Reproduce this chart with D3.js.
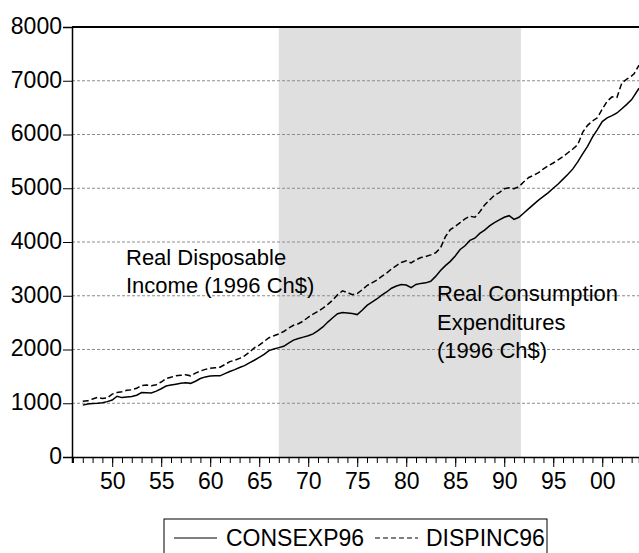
<!DOCTYPE html>
<html><head><meta charset="utf-8">
<script src="https://cdn.jsdelivr.net/npm/d3@7"></script>
<style>body{margin:0;background:#fff}svg{display:block}text{font-family:"Liberation Sans",Arial,sans-serif;fill:#000}</style>
</head><body>
<script>
// Period (semiannual observations, decimal years)
const periods = d3.range(1947, 2003.01, 0.5).concat([2003.25, 2003.75]);
const consexp96 = [965,985,995,1000,1010,1030,1060,1130,1105,1115,1125,1150,1200,1195,1190,1225,1270,1320,1340,1355,
 1370,1380,1370,1410,1460,1490,1505,1510,1510,1550,1590,1625,1665,1700,1750,1800,1855,1910,1980,2010,
 2035,2060,2120,2175,2205,2230,2255,2290,2350,2420,2510,2590,2665,2690,2680,2670,2650,2730,2820,2880,
 2940,3010,3070,3140,3180,3210,3200,3150,3210,3230,3240,3270,3360,3470,3560,3640,3740,3860,3930,4030,
 4070,4160,4220,4300,4360,4410,4460,4490,4420,4460,4540,4620,4700,4780,4850,4920,5000,5080,5170,5260,
 5360,5490,5640,5780,5950,6090,6240,6310,6350,6400,6480,6560,6650,6720,6860];
const dispinc96 = [1035,1045,1080,1110,1090,1100,1170,1200,1215,1240,1250,1280,1330,1340,1325,1345,1395,1460,1485,1510,
 1520,1530,1510,1560,1600,1630,1650,1660,1670,1720,1775,1800,1835,1880,1950,2030,2080,2150,2220,2255,
 2290,2335,2400,2450,2480,2530,2600,2660,2710,2770,2840,2920,3020,3090,3060,3020,3040,3110,3190,3240,
 3290,3360,3420,3500,3560,3620,3650,3610,3670,3710,3730,3760,3800,3890,4100,4230,4290,4360,4430,4480,
 4460,4560,4690,4780,4870,4920,4990,5010,4990,5030,5120,5200,5240,5290,5360,5420,5470,5530,5590,5660,
 5730,5810,6040,6170,6250,6310,6470,6620,6700,6690,6960,7030,7090,7130,7290];
const shadeSpan = [1967.0, 1991.7];
const yTicks = [0,1000,2000,3000,4000,5000,6000,7000,8000];
const xMajor = [1950,1955,1960,1965,1970,1975,1980,1985,1990,1995,2000];
const xMinor = d3.range(1946, 2004, 1);
const seriesNames = ["CONSEXP96", "DISPINC96"];

const W = 639, H = 553;
const L = 72, R = 639, T = 27, B = 457;
const svg = d3.select("body").append("svg").attr("width", W).attr("height", H);
const x = d3.scaleLinear().domain([1945.9, 2003.75]).range([L, R]);
const y = d3.scaleLinear().domain([0, 8000]).range([B, T]);

// shading
svg.append("rect").attr("x", x(shadeSpan[0])).attr("y", T)
  .attr("width", x(shadeSpan[1]) - x(shadeSpan[0])).attr("height", B - T).attr("fill", "#dfdfdf");

// grid
svg.selectAll("line.grid").data(yTicks.filter(v => v > 0 && v < 8000)).join("line")
  .attr("x1", L).attr("x2", R).attr("y1", d => y(d)).attr("y2", d => y(d))
  .attr("stroke", "#8c8c8c").attr("stroke-width", 1).attr("stroke-dasharray", "3,2");

// series
const line = vals => d3.line().x((d, i) => x(periods[i])).y(d => y(d))(vals);
svg.append("path").attr("d", line(consexp96)).attr("fill", "none").attr("stroke", "#000").attr("stroke-width", 1.5);
svg.append("path").attr("d", line(dispinc96)).attr("fill", "none").attr("stroke", "#000").attr("stroke-width", 1.5)
  .attr("stroke-dasharray", "6,3");

// top border
svg.append("line").attr("x1", L).attr("x2", R).attr("y1", T).attr("y2", T).attr("stroke", "#000").attr("stroke-width", 2);

// left axis
const ya = svg.append("g").attr("transform", `translate(${L},0)`)
  .call(d3.axisLeft(y).tickValues(yTicks).tickSize(9).tickPadding(1).tickFormat(d3.format("d")));
ya.select(".domain").attr("stroke-width", 1.5);
ya.selectAll("text").style("font-size", "23px").attr("font-family", null).attr("dy", "0.28em");

// bottom axis
const xa = svg.append("g").attr("transform", `translate(0,${B})`);
xa.call(d3.axisBottom(x).tickValues(xMinor).tickSize(6).tickFormat(""));
xa.select(".domain").attr("stroke-width", 1.5);
const xb = svg.append("g").attr("transform", `translate(0,${B})`);
xb.call(d3.axisBottom(x).tickValues(xMajor).tickSize(10).tickPadding(6)
  .tickFormat(d => String(d % 100).padStart(2, "0")));
xb.select(".domain").remove();
xb.selectAll("text").style("font-size", "23px").attr("font-family", null);

// annotations
const ann = svg.append("g").style("font-size", "22px");
ann.append("text").attr("x", 126).attr("y", 265).text("Real Disposable");
ann.append("text").attr("x", 126).attr("y", 293).text("Income (1996 Ch$)");
ann.append("text").attr("x", 437).attr("y", 301).text("Real Consumption");
ann.append("text").attr("x", 437).attr("y", 329.5).text("Expenditures");
ann.append("text").attr("x", 437).attr("y", 358).text("(1996 Ch$)");

// legend
const lg = svg.append("g");
lg.append("rect").attr("x", 164).attr("y", 519).attr("width", 383).attr("height", 50)
  .attr("fill", "#fff").attr("stroke", "#000").attr("stroke-width", 1);
lg.append("line").attr("x1", 174).attr("x2", 217).attr("y1", 538).attr("y2", 538).attr("stroke", "#000").attr("stroke-width", 1.2);
lg.append("text").attr("x", 226).attr("y", 546).style("font-size", "23px").text(seriesNames[0]);
lg.append("line").attr("x1", 375).attr("x2", 418).attr("y1", 538).attr("y2", 538).attr("stroke", "#000").attr("stroke-width", 1.2).attr("stroke-dasharray", "5,3");
lg.append("text").attr("x", 426).attr("y", 546).style("font-size", "23px").text(seriesNames[1]);
</script>
</body></html>
